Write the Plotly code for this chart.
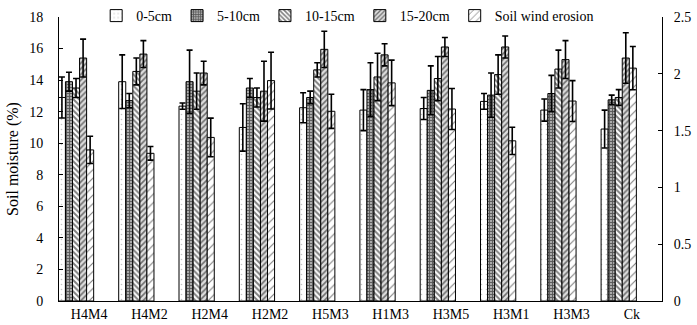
import plotly.graph_objects as go

categories = ["H4M4", "H4M2", "H2M4", "H2M2", "H5M3", "H1M3", "H3M5", "H3M1", "H3M3", "Ck"]

moist_0_5 = [12.9, 13.9, 12.35, 11.0, 12.25, 12.1, 12.2, 12.65, 12.1, 10.9]
err_0_5 = [1.3, 1.7, 0.2, 1.5, 0.95, 1.3, 0.7, 0.5, 0.7, 1.2]
moist_5_10 = [13.9, 12.7, 13.9, 13.5, 12.9, 13.4, 13.35, 13.05, 13.15, 12.75]
err_5_10 = [0.6, 0.45, 2.0, 0.6, 0.4, 1.7, 1.55, 1.4, 1.15, 0.3]
moist_10_15 = [13.5, 14.55, 13.3, 12.9, 14.65, 14.2, 14.1, 14.35, 14.7, 12.9]
err_10_15 = [0.6, 0.85, 1.15, 0.6, 0.45, 1.5, 1.4, 1.25, 1.2, 0.5]
moist_15_20 = [15.4, 15.65, 14.45, 13.3, 15.95, 15.6, 16.1, 16.1, 15.3, 15.4]
err_15_20 = [1.2, 0.85, 0.75, 1.9, 1.15, 0.7, 0.6, 0.7, 1.2, 1.6]
# soil wind erosion (right axis units)
wind = [1.33, 1.30, 1.44, 1.94, 1.67, 1.92, 1.69, 1.41, 1.76, 2.05]
wind_err = [0.12, 0.06, 0.17, 0.25, 0.15, 0.2, 0.18, 0.12, 0.18, 0.19]

series = [
    ("0-5cm", moist_0_5, err_0_5, dict(shape=".", size=5, solidity=0.08, fgcolor="#888888", bgcolor="white")),
    ("5-10cm", moist_5_10, err_5_10, dict(shape="+", size=3, solidity=0.5, fgcolor="black", bgcolor="#aaaaaa")),
    ("10-15cm", moist_10_15, err_10_15, dict(shape="\\", size=4, solidity=0.5, fgcolor="black", bgcolor="white")),
    ("15-20cm", moist_15_20, err_15_20, dict(shape="/", size=4, solidity=0.4, fgcolor="black", bgcolor="#dddddd")),
]

FONT = "Liberation Serif"
w = 0.117
fig = go.Figure()
for i, (name, vals, errs, pat) in enumerate(series):
    fig.add_trace(go.Bar(
        x=categories, y=vals, name=name,
        offset=-0.51 + i * w, width=w,
        marker=dict(color="white", line=dict(color="black", width=1), pattern=pat),
        error_y=dict(type="data", array=errs, color="black", thickness=1.6, width=3),
        yaxis="y",
    ))
fig.add_trace(go.Bar(
    x=categories, y=wind, name="Soil wind erosion",
    offset=-0.51 + 4 * w, width=w,
    marker=dict(color="white", line=dict(color="black", width=1),
                pattern=dict(shape="/", size=6, solidity=0.18, fgcolor="black", bgcolor="white")),
    error_y=dict(type="data", array=wind_err, color="black", thickness=1.6, width=3),
    yaxis="y2",
))

fig.update_layout(
    width=697, height=325,
    margin=dict(l=59, r=35, t=17, b=24, autoexpand=False),
    paper_bgcolor="white", plot_bgcolor="white",
    barmode="overlay",
    font=dict(family=FONT, size=14, color="black"),
    showlegend=True,
    legend=dict(orientation="h", x=0.138, y=1.0, xref="container", yref="container",
                xanchor="left", yanchor="top",
                font=dict(family=FONT, size=14), bgcolor="rgba(0,0,0,0)",
                itemwidth=30, tracegroupgap=0),
    xaxis=dict(type="category", range=[-0.5, 9.5], showline=True, linecolor="black",
               linewidth=1, ticks="", showgrid=False, tickfont=dict(size=14, family=FONT)),
    yaxis=dict(range=[0, 18], dtick=2, showline=True, linecolor="black", linewidth=1,
               ticks="inside", ticklen=4, tickcolor="black", showgrid=False, zeroline=False,
               ticklabelstandoff=12,
               title=dict(text="Soil moisture (%)", font=dict(size=16, family=FONT), standoff=6),
               tickfont=dict(size=14, family=FONT)),
    yaxis2=dict(range=[0, 2.5], dtick=0.5, overlaying="y", side="right", showline=True,
                linecolor="black", linewidth=1, ticks="inside", ticklen=4, tickcolor="black",
                showgrid=False, zeroline=False, ticklabelstandoff=8,
                tickfont=dict(size=14, family=FONT)),
)

fig.write_html("out.html", config={"displayModeBar": False},
               post_script="document.body.style.margin='0';")
